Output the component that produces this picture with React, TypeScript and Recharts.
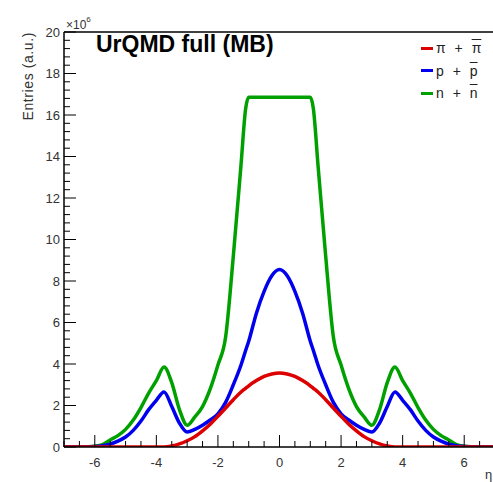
import React from "react";
import { LineChart, Line, XAxis, YAxis, ReferenceLine } from "recharts";

// eta bins
const etaValues = [
  -7, -6.75, -6.5, -6.25, -6, -5.75, -5.5, -5.25, -5, -4.75, -4.5, -4.25, -4, -3.75, -3.5, -3.25, -3,
  -2.75, -2.5, -2.25, -2, -1.75, -1.5, -1.25, -1.1, -1, -0.75, -0.5, -0.25, 0,
  0.25, 0.5, 0.75, 1, 1.1, 1.25, 1.5, 1.75, 2, 2.25, 2.5, 2.75, 3, 3.25, 3.5, 3.75, 4,
  4.25, 4.5, 4.75, 5, 5.25, 5.5, 5.75, 6, 6.25, 6.5, 6.75, 7,
];

// entries in units of 10^6
const pionValues = [
  0, 0, 0, 0, 0, 0, 0, 0, 0, 0, 0, 0, 0, 0, 0.05, 0.15, 0.3,
  0.5, 0.78, 1.1, 1.48, 1.88, 2.28, 2.65, 2.83, 2.95, 3.2, 3.4, 3.52, 3.57,
  3.52, 3.4, 3.2, 2.95, 2.83, 2.65, 2.28, 1.88, 1.48, 1.1, 0.78, 0.5, 0.3, 0.15, 0.05, 0, 0,
  0, 0, 0, 0, 0, 0, 0, 0, 0, 0, 0, 0,
];

const protonValues = [
  0, 0, 0, 0, 0.02, 0.06, 0.14, 0.28, 0.48, 0.8, 1.25, 1.8, 2.25, 2.65, 1.95, 1.15, 0.72,
  0.85, 1.05, 1.3, 1.6, 2.15, 3.0, 3.95, 4.65, 5.1, 6.45, 7.5, 8.25, 8.55,
  8.25, 7.5, 6.45, 5.1, 4.65, 3.95, 3.0, 2.15, 1.6, 1.3, 1.05, 0.85, 0.72, 1.15, 1.95, 2.65, 2.25,
  1.8, 1.25, 0.8, 0.48, 0.28, 0.14, 0.06, 0.02, 0, 0, 0, 0,
];

const neutronValues = [
  0, 0, 0, 0.01, 0.04, 0.12, 0.34, 0.55, 0.85, 1.3, 1.9, 2.6, 3.2, 3.85, 3.1, 1.8, 1.05,
  1.45, 1.95, 2.8, 3.95, 5.3, 9.2, 13.6, 16.3, 16.85, 16.85, 16.85, 16.85, 16.85,
  16.85, 16.85, 16.85, 16.85, 16.3, 13.6, 9.2, 5.3, 3.95, 2.8, 1.95, 1.45, 1.05, 1.8, 3.1, 3.85, 3.2,
  2.6, 1.9, 1.3, 0.85, 0.55, 0.34, 0.12, 0.04, 0.01, 0, 0, 0,
];

const xMajorTicks = [-6, -4, -2, 0, 2, 4, 6];
const yMajorTicks = [0, 2, 4, 6, 8, 10, 12, 14, 16, 18, 20];
const xMinorStep = 0.5;
const yMinorStep = 0.4;

const legendItems = [
  { key: "pion", color: "#dd0000", base: "π", bar: "π" },
  { key: "proton", color: "#0000ee", base: "p", bar: "p" },
  { key: "neutron", color: "#00a000", base: "n", bar: "n" },
];

const data = etaValues.map((eta, i) => ({
  eta,
  pion: pionValues[i],
  proton: protonValues[i],
  neutron: neutronValues[i],
}));

const xTicks: number[] = [];
for (let v = -7; v <= 7 + 1e-9; v += xMinorStep) xTicks.push(+v.toFixed(2));
const yTicks: number[] = [];
for (let v = 0; v <= 20 + 1e-9; v += yMinorStep) yTicks.push(+v.toFixed(2));

const isMajor = (v: number, list: number[]) => list.some((m) => Math.abs(m - v) < 1e-6);

const FONT = "'Liberation Sans', Arial, Helvetica, sans-serif";

const YTick = (props: any) => {
  const { x, y, payload } = props;
  const major = isMajor(payload.value, yMajorTicks);
  return (
    <g>
      <line x1={x} x2={x + (major ? 12 : 6)} y1={y} y2={y} stroke="#000" strokeWidth={1} />
      {major && (
        <text x={x - 4} y={y} textAnchor="end" dominantBaseline="central" fontSize={13} fill="#333" fontFamily={FONT}>
          {payload.value}
        </text>
      )}
    </g>
  );
};

const XTick = (props: any) => {
  const { x, y, payload } = props;
  const major = isMajor(payload.value, xMajorTicks);
  return (
    <g>
      <line x1={x} x2={x} y1={y} y2={y - (major ? 12 : 6)} stroke="#000" strokeWidth={1} />
      {major && (
        <text x={x} y={y + 15} textAnchor="middle" dominantBaseline="central" fontSize={13} fill="#333" fontFamily={FONT}>
          {payload.value}
        </text>
      )}
    </g>
  );
};

export default function App() {
  return (
    <div
      style={{
        position: "fixed",
        left: 0,
        top: 0,
        width: 493,
        height: 482,
        overflow: "hidden",
        background: "#fff",
      }}
    >
      <LineChart width={510} height={482} data={data} margin={{ top: 32, right: 15, bottom: 5, left: 0 }}>
        <XAxis
          dataKey="eta"
          type="number"
          domain={[-7, 7]}
          ticks={xTicks}
          interval={0}
          height={30}
          tickSize={0}
          tickMargin={0}
          tickLine={false}
          tick={<XTick />}
          axisLine={{ stroke: "#000", strokeWidth: 1.5 }}
          allowDataOverflow
        />
        <YAxis
          type="number"
          domain={[0, 20]}
          ticks={yTicks}
          interval={0}
          width={64}
          tickSize={0}
          tickMargin={0}
          tickLine={false}
          tick={<YTick />}
          axisLine={{ stroke: "#000", strokeWidth: 1.5 }}
          allowDataOverflow
        />
        <ReferenceLine y={20} stroke="#000" strokeWidth={1.5} />
        <Line type="monotone" dataKey="neutron" stroke="#00a000" strokeWidth={3.5} dot={false} isAnimationActive={false} />
        <Line type="monotone" dataKey="proton" stroke="#0000ee" strokeWidth={3.5} dot={false} isAnimationActive={false} />
        <Line type="monotone" dataKey="pion" stroke="#dd0000" strokeWidth={3.5} dot={false} isAnimationActive={false} />
      </LineChart>

      <svg
        width={493}
        height={482}
        style={{ position: "absolute", left: 0, top: 0, pointerEvents: "none" }}
      >
        <text x={96} y={52} fontSize={23} fontWeight="bold" fill="#000" fontFamily={FONT}>
          UrQMD full (MB)
        </text>
        <text x={66} y={29} fontSize={12} fill="#333" fontFamily={FONT}>
          ×10
          <tspan fontSize={8} dy={-7}>6</tspan>
        </text>
        <text
          transform="translate(33,32) rotate(-90)"
          textAnchor="end"
          fontSize={14}
          letterSpacing={0.6}
          fill="#333"
          fontFamily={FONT}
        >
          Entries (a.u.)
        </text>
        <text x={485} y={479} fontSize={13} fill="#333" fontFamily={FONT}>
          η
        </text>
      </svg>

      {legendItems.map((item, i) => (
        <div
          key={item.key}
          style={{
            position: "absolute",
            left: 421,
            top: 39 + i * 22.5,
            height: 18,
            display: "flex",
            alignItems: "center",
            fontFamily: FONT,
            fontSize: 14,
            color: "#222",
            whiteSpace: "pre",
          }}
        >
          <span style={{ display: "inline-block", width: 12, height: 3, background: item.color, marginRight: 3 }} />
          <span style={{ wordSpacing: 5 }}>
            {item.base} + <span style={{ textDecoration: "overline" }}>{item.bar}</span>
          </span>
        </div>
      ))}
    </div>
  );
}
